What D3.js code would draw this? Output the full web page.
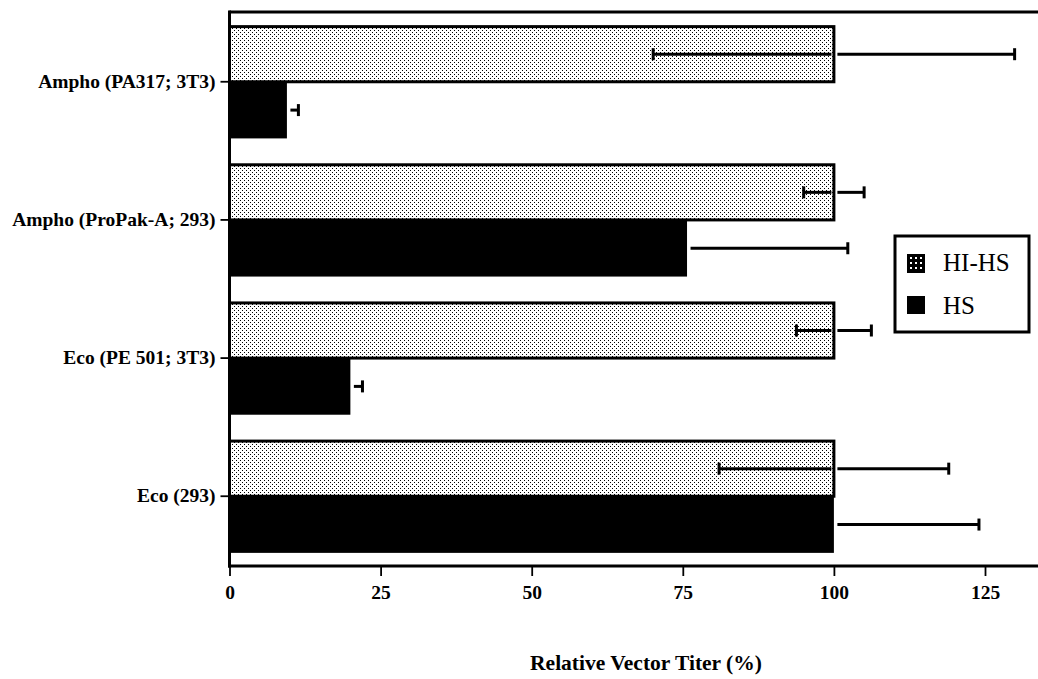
<!DOCTYPE html>
<html><head><meta charset="utf-8">
<script src="https://cdn.jsdelivr.net/npm/d3@7/dist/d3.min.js"></script>
<style>
html,body{margin:0;padding:0;background:#fff;}
svg{display:block;font-family:"Liberation Serif","Times New Roman",serif;}
</style></head>
<body>
<svg id="chart" width="1038" height="679"></svg>
<script>
const categories = ["Ampho (PA317; 3T3)", "Ampho (ProPak-A; 293)", "Eco (PE 501; 3T3)", "Eco (293)"];
const seriesNames = ["HI-HS", "HS"];
const hihsValues = [100, 100, 100, 100];
const hihsErrors = [29.9, 5, 6.2, 19];
const hsValues = [9.5, 75.7, 20, 100];
const hsErrors = [1.9, 26.6, 2, 24];
const xTicks = [0, 25, 50, 75, 100, 125];
const xTitle = "Relative Vector Titer (%)";

(function(){
const svg = d3.select("#chart");
const W = 1038;
const topY = 12, bottomY = 566;

const defs = svg.append("defs");
const pat = defs.append("pattern").attr("id","dots").attr("patternUnits","userSpaceOnUse")
  .attr("width",4).attr("height",4);
pat.append("rect").attr("width",4).attr("height",4).attr("fill","#fff");
pat.append("rect").attr("x",0).attr("y",0).attr("width",1).attr("height",1).attr("fill","#000");
pat.append("rect").attr("x",2).attr("y",2).attr("width",1).attr("height",1).attr("fill","#000");

const pat2 = defs.append("pattern").attr("id","dots2").attr("patternUnits","userSpaceOnUse")
  .attr("width",5).attr("height",5).attr("x",909).attr("y",256);
pat2.append("rect").attr("width",5).attr("height",5).attr("fill","#000");
pat2.append("rect").attr("x",1).attr("y",1).attr("width",2).attr("height",2).attr("fill","#fff");

const x = d3.scaleLinear().domain([0,125]).range([229.5,985]);
const y = d3.scaleBand().domain(categories).range([topY,bottomY]).paddingInner(0.18).paddingOuter(0.095);
const sub = d3.scaleBand().domain(seriesNames).range([0,y.bandwidth()]);

const data = categories.map((c,i)=>({c, hihs:hihsValues[i], hihsErr:hihsErrors[i], hs:hsValues[i], hsErr:hsErrors[i]}));

const g = svg.append("g");
g.selectAll("rect.hs").data(data).join("rect").attr("class","hs")
  .attr("x",x(0)).attr("y",d=>y(d.c)+sub("HS"))
  .attr("width",d=>x(d.hs)-x(0)).attr("height",sub.bandwidth())
  .attr("fill","#000");
g.selectAll("rect.hihs").data(data).join("rect").attr("class","hihs")
  .attr("x",x(0)).attr("y",d=>y(d.c)+sub("HI-HS")+1.5)
  .attr("width",d=>x(d.hihs)-x(0)).attr("height",sub.bandwidth()-1.5)
  .attr("fill","url(#dots)").attr("stroke","#000").attr("stroke-width",3);

function errBar(sel, val, err, key, gapIn){
  sel.each(function(d){
    const gg = d3.select(this);
    const cy = y(d.c)+sub(key)+sub.bandwidth()/2 + (key==="HI-HS"?0.75:0);
    const v = x(d[val]), lo = x(d[val]-d[err]), hi = x(d[val]+d[err]);
    if (gapIn) gg.append("line").attr("x1",lo).attr("x2",v-gapIn).attr("y1",cy).attr("y2",cy)
      .attr("stroke","#000").attr("stroke-width",3);
    gg.append("line").attr("x1",v+3.5).attr("x2",hi).attr("y1",cy).attr("y2",cy)
      .attr("stroke","#000").attr("stroke-width",3);
    [lo,hi].forEach(px=>{
      gg.append("line").attr("x1",px).attr("x2",px).attr("y1",cy-6).attr("y2",cy+6)
        .attr("stroke","#000").attr("stroke-width",3);
    });
  });
}
errBar(svg.append("g").selectAll("g").data(data).join("g"), "hihs","hihsErr","HI-HS",2.5);
errBar(svg.append("g").selectAll("g").data(data).join("g"), "hs","hsErr","HS",0);

svg.append("line").attr("x1",x(0)).attr("x2",W).attr("y1",topY).attr("y2",topY).attr("stroke","#000").attr("stroke-width",3);
svg.append("line").attr("x1",x(0)).attr("x2",x(0)).attr("y1",topY-1.5).attr("y2",bottomY+1.5).attr("stroke","#000").attr("stroke-width",3);

const xAxis = svg.append("g").attr("transform",`translate(0,${bottomY})`)
  .call(d3.axisBottom(x).tickValues(xTicks).tickFormat(d3.format("d")).tickSize(10).tickPadding(9));
xAxis.select(".domain").remove();
xAxis.append("line").attr("x1",x(0)-1.5).attr("x2",W).attr("y1",0).attr("y2",0).attr("stroke","#000").attr("stroke-width",3);
xAxis.selectAll(".tick line").attr("stroke","#000").attr("stroke-width",1.8);
xAxis.selectAll(".tick text").attr("fill","#000").attr("font-size",19.5).attr("font-weight","bold")
  .attr("font-family","Liberation Serif, serif");

const yAxis = svg.append("g").attr("transform",`translate(${x(0)},0)`)
  .call(d3.axisLeft(y).tickSize(9).tickPadding(5));
yAxis.select(".domain").remove();
yAxis.selectAll(".tick line").attr("stroke","#000").attr("stroke-width",1.8);
yAxis.selectAll(".tick text").attr("fill","#000").attr("font-size",19.5).attr("font-weight","bold")
  .attr("font-family","Liberation Serif, serif");

svg.append("text").attr("x",646).attr("y",670).attr("text-anchor","middle")
  .attr("font-size",21.5).attr("font-weight","bold").text(xTitle);

const lg = svg.append("g");
lg.append("rect").attr("x",895).attr("y",236).attr("width",134).attr("height",96)
  .attr("fill","#fff").attr("stroke","#000").attr("stroke-width",3);
lg.append("rect").attr("x",908).attr("y",255).attr("width",16).attr("height",17)
  .attr("fill","url(#dots2)").attr("stroke","#000").attr("stroke-width",2);
lg.append("rect").attr("x",907).attr("y",296).attr("width",18).attr("height",18).attr("fill","#000");
lg.append("text").attr("x",943).attr("y",271).attr("font-size",25).text(seriesNames[0]);
lg.append("text").attr("x",943).attr("y",314).attr("font-size",25).text(seriesNames[1]);
})();
</script>
</body></html>
